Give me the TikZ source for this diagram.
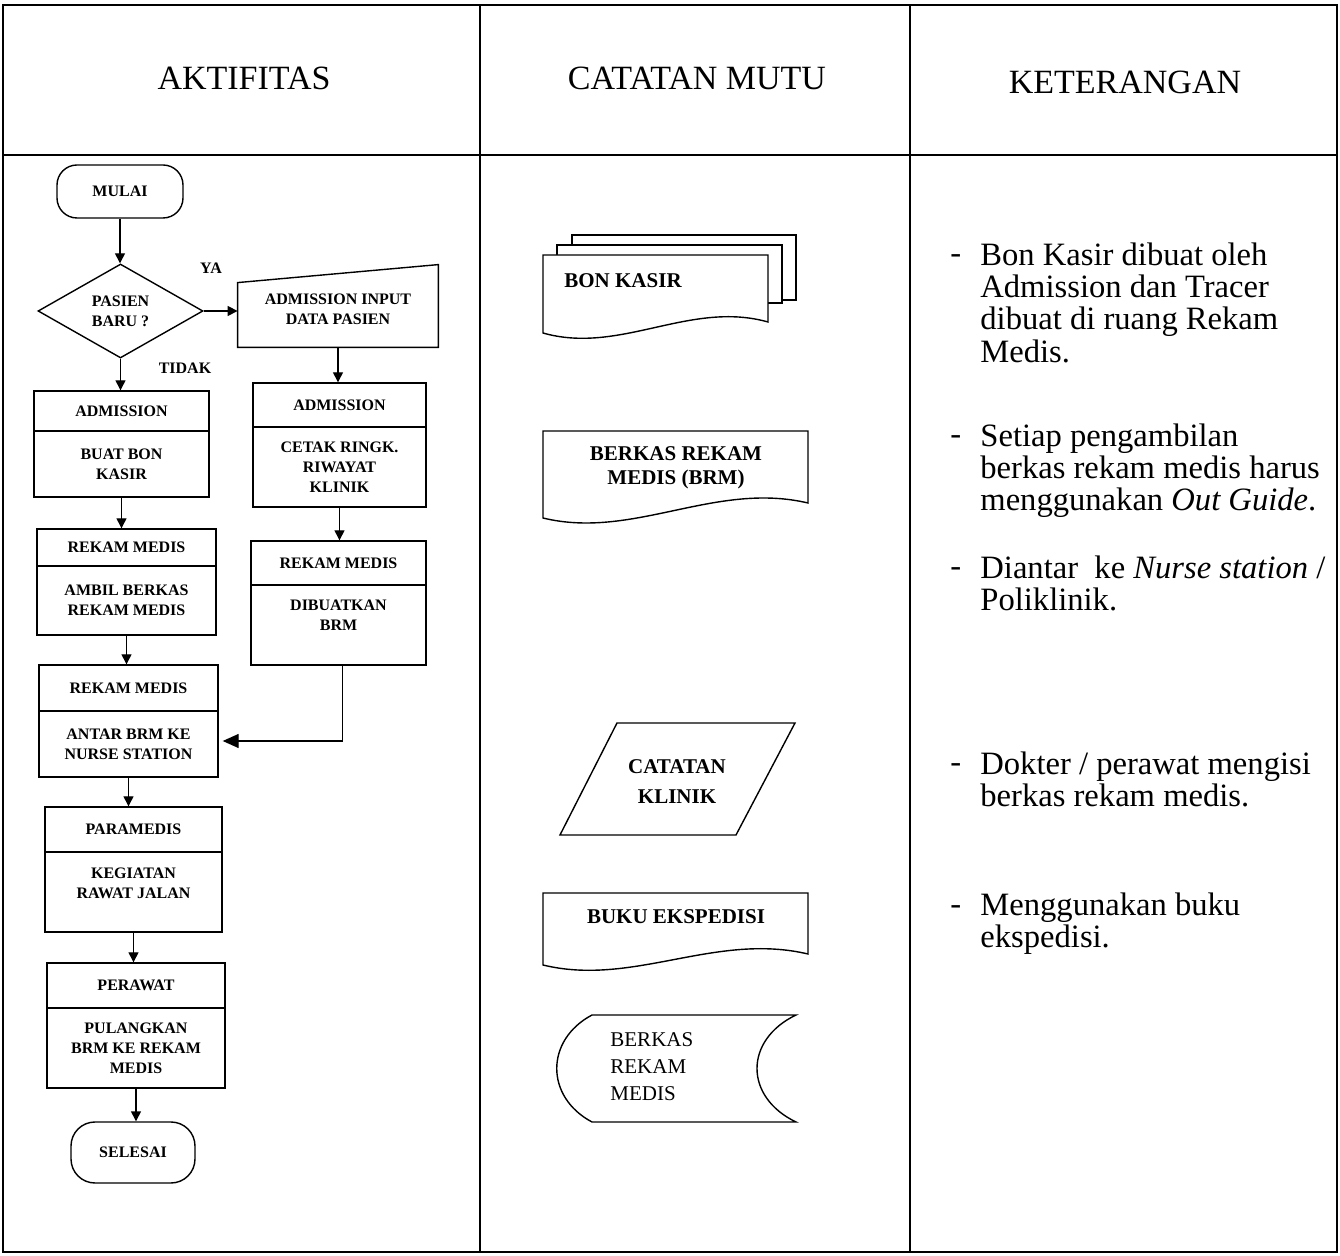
\documentclass[tikz,border=0pt]{standalone}
\usepackage{fontspec}
\setmainfont{Liberation Serif}
\usetikzlibrary{shapes.geometric,arrows.meta}
\begin{document}
\begin{tikzpicture}[x=0.5pt,y=-0.5pt,
  grid/.style={line width=0.6pt},
  shp/.style={draw, line width=0.7pt},
  fb/.style={draw, line width=0.7pt, rectangle, inner sep=1pt, align=center, font=\fontsize{8}{10}\selectfont\bfseries},
  ft/.style={inner sep=0pt, align=center, font=\fontsize{8}{10}\selectfont\bfseries},
  term/.style={fb, rounded corners=10pt},
  arr/.style={line width=0.7pt, -{Triangle[length=5pt,width=5pt]}},
  bigarr/.style={line width=0.7pt, -{Triangle[length=8pt,width=7pt]}},
  hdr/.style={inner sep=0pt, font=\fontsize{17}{20}\selectfont},
  cmtxt/.style={inner sep=0pt, align=center, font=\fontsize{10.5}{11.5}\selectfont\bfseries},
  ket/.style={inner sep=0pt, align=left, anchor=north west, font=\fontsize{16.3}{16.2}\selectfont},
  dsh/.style={inner sep=0pt, anchor=base west, font=\fontsize{16.3}{16.2}\selectfont}
]
% background and bounding box
\fill[white] (0,0) rectangle (1340,1256);
\useasboundingbox (0,0) rectangle (1340,1256);

% table
\draw[grid] (3,5) rectangle (1337,1252);
\draw[grid] (3,155) -- (1337,155);
\draw[grid] (480,5) -- (480,1252);
\draw[grid] (910,5) -- (910,1252);

\node[hdr] (h1) at (244,78) {AKTIFITAS};
\node[hdr] (h2) at (697,78) {CATATAN MUTU};
\node[hdr] (h3) at (1125,82) {KETERANGAN};

% ---------- flowchart ----------
\node[term, minimum width=63pt, minimum height=26.5pt] (mulai) at (120,191.5) {MULAI};
\node[fb, shape=diamond, minimum width=82.5pt, minimum height=47pt, inner sep=0pt] (d) at (120.5,311) {PASIEN\\BARU ?};

% manual input
\node[minimum width=100pt, minimum height=32pt, inner sep=0pt] (mi) at (338,315) {};
\draw[shp] (mi.south west) -- (mi.north west) -- ([yshift=9pt]mi.north east) -- (mi.south east) -- cycle;
\node[ft] (mit) at (338,309) {ADMISSION INPUT\\DATA PASIEN};

\node[ft] (ya) at (211,268) {YA};
\node[ft] (tidak) at (185,368) {TIDAK};

% left column boxes
\node[fb, minimum width=87.5pt, minimum height=20pt] (l1h) at (121.5,411) {ADMISSION};
\node[fb, minimum width=87.5pt, minimum height=33pt] (l1b) at (121.5,464) {BUAT BON\\KASIR};

\node[fb, minimum width=89.5pt, minimum height=18.5pt] (l2h) at (126.5,547.5) {REKAM MEDIS};
\node[fb, minimum width=89.5pt, minimum height=34.5pt] (l2b) at (126.5,600.5) {AMBIL BERKAS\\REKAM MEDIS};

\node[fb, minimum width=89.5pt, minimum height=23pt] (l3h) at (128.5,688) {REKAM MEDIS};
\node[fb, minimum width=89.5pt, minimum height=33pt] (l3b) at (128.5,744) {ANTAR BRM KE\\NURSE STATION};

\node[fb, minimum width=88.5pt, minimum height=22.5pt] (l4h) at (133.5,829.5) {PARAMEDIS};
\node[fb, minimum width=88.5pt, minimum height=40pt] (l4b) at (133.5,892) {};
\node[ft] (l4t) at (133.5,883) {KEGIATAN\\RAWAT JALAN};

\node[fb, minimum width=89pt, minimum height=22.5pt] (l5h) at (136,985.5) {PERAWAT};
\node[fb, minimum width=89pt, minimum height=40pt] (l5b) at (136,1048) {PULANGKAN\\BRM KE REKAM\\MEDIS};

\node[term, minimum width=62pt, minimum height=30.5pt, rounded corners=12pt] (selesai) at (133,1152.5) {SELESAI};

% right column boxes
\node[fb, minimum width=86.5pt, minimum height=22pt] (r1h) at (339.5,405) {ADMISSION};
\node[fb, minimum width=86.5pt, minimum height=40pt] (r1b) at (339.5,467) {CETAK RINGK.\\RIWAYAT\\KLINIK};

\node[fb, minimum width=87.5pt, minimum height=22pt] (r2h) at (338.5,563) {REKAM MEDIS};
\node[fb, minimum width=87.5pt, minimum height=40pt] (r2b) at (338.5,625) {};
\node[ft] (r2t) at (338.5,615) {DIBUATKAN\\BRM};

% connectors
\draw[arr] (mulai.south) -- (mulai.south |- d.north);
\draw[arr] (d.south) -- (d.south |- l1h.north);
\draw[arr] (d.east) -- (d.east -| mi.west);
\draw[arr] (mi.south) -- (mi.south |- r1h.north);
\draw[arr] (r1b.south) -- (r1b.south |- r2h.north);
\draw[arr] (l1b.south) -- (l1b.south |- l2h.north);
\draw[arr] (l2b.south) -- (l2b.south |- l3h.north);
\draw[arr] (l3b.south) -- (l3b.south |- l4h.north);
\draw[arr] (l4b.south) -- (l4b.south |- l5h.north);
\draw[arr] (l5b.south) -- (l5b.south |- selesai.north);
\draw[bigarr] ([xshift=2pt]r2b.south) |- ([shift={(2pt,1.5pt)}]l3b.east);

% ---------- catatan mutu ----------
% bon kasir (multiple documents)
\draw[shp, fill=white] (572,235) rectangle (796,300);
\draw[shp, fill=white] (557,245) rectangle (782,303);
\draw[shp, fill=white] (543,255) -- (768,255) -- (768,322) .. controls (690,300) and (620,355) .. (543,333) -- cycle;
\node[cmtxt, anchor=west] (bk) at (564,281) {BON KASIR};

% berkas rekam medis (BRM) document
\draw[shp] (543,431) -- (808,431) -- (808,503) .. controls (715,481) and (633,540) .. (543,518) -- cycle;
\node[cmtxt, font=\fontsize{10.5}{12}\selectfont\bfseries] (brm) at (676,468) {BERKAS REKAM\\MEDIS (BRM)};

% catatan klinik parallelogram
\draw[shp] (617,723) -- (795,723) -- (736,835) -- (560,835) -- cycle;
\node[cmtxt, font=\fontsize{10.5}{15}\selectfont\bfseries] (ck) at (677,782) {CATATAN\\KLINIK};

% buku ekspedisi document
\draw[shp] (543,893) -- (808,893) -- (808,954) .. controls (715,932) and (633,987) .. (543,965) -- cycle;
\node[cmtxt] (be) at (676,917) {BUKU EKSPEDISI};

% stored data
\draw[shp] (592,1015) -- (796,1015) .. controls (744,1040) and (744,1097) .. (796,1122) -- (592,1122) .. controls (545,1097) and (545,1040) .. (592,1015) -- cycle;
\node[inner sep=0pt, align=left, anchor=west, font=\fontsize{10.5}{13.5}\selectfont] (sd) at (610,1067) {BERKAS\\REKAM\\MEDIS};

% ---------- keterangan ----------
\node[dsh] (k1d) at (950,264) {-};
\node[ket] (k1) at (980,242) {Bon Kasir dibuat oleh\\Admission dan Tracer\\dibuat di ruang Rekam\\Medis.};
\node[dsh] (k2d) at (950,445) {-};
\node[ket] (k2) at (980,423) {Setiap pengambilan\\berkas rekam medis harus\\menggunakan \textit{Out Guide}.};
\node[dsh] (k3d) at (950,577) {-};
\node[ket] (k3) at (980,555) {Diantar\ \ ke \textit{Nurse station} /\\Poliklinik.};
\node[dsh] (k4d) at (950,773) {-};
\node[ket] (k4) at (980,751) {Dokter / perawat mengisi\\berkas rekam medis.};
\node[dsh] (k5d) at (950,914) {-};
\node[ket] (k5) at (980,892) {Menggunakan buku\\ekspedisi.};
\end{tikzpicture}
\end{document}
